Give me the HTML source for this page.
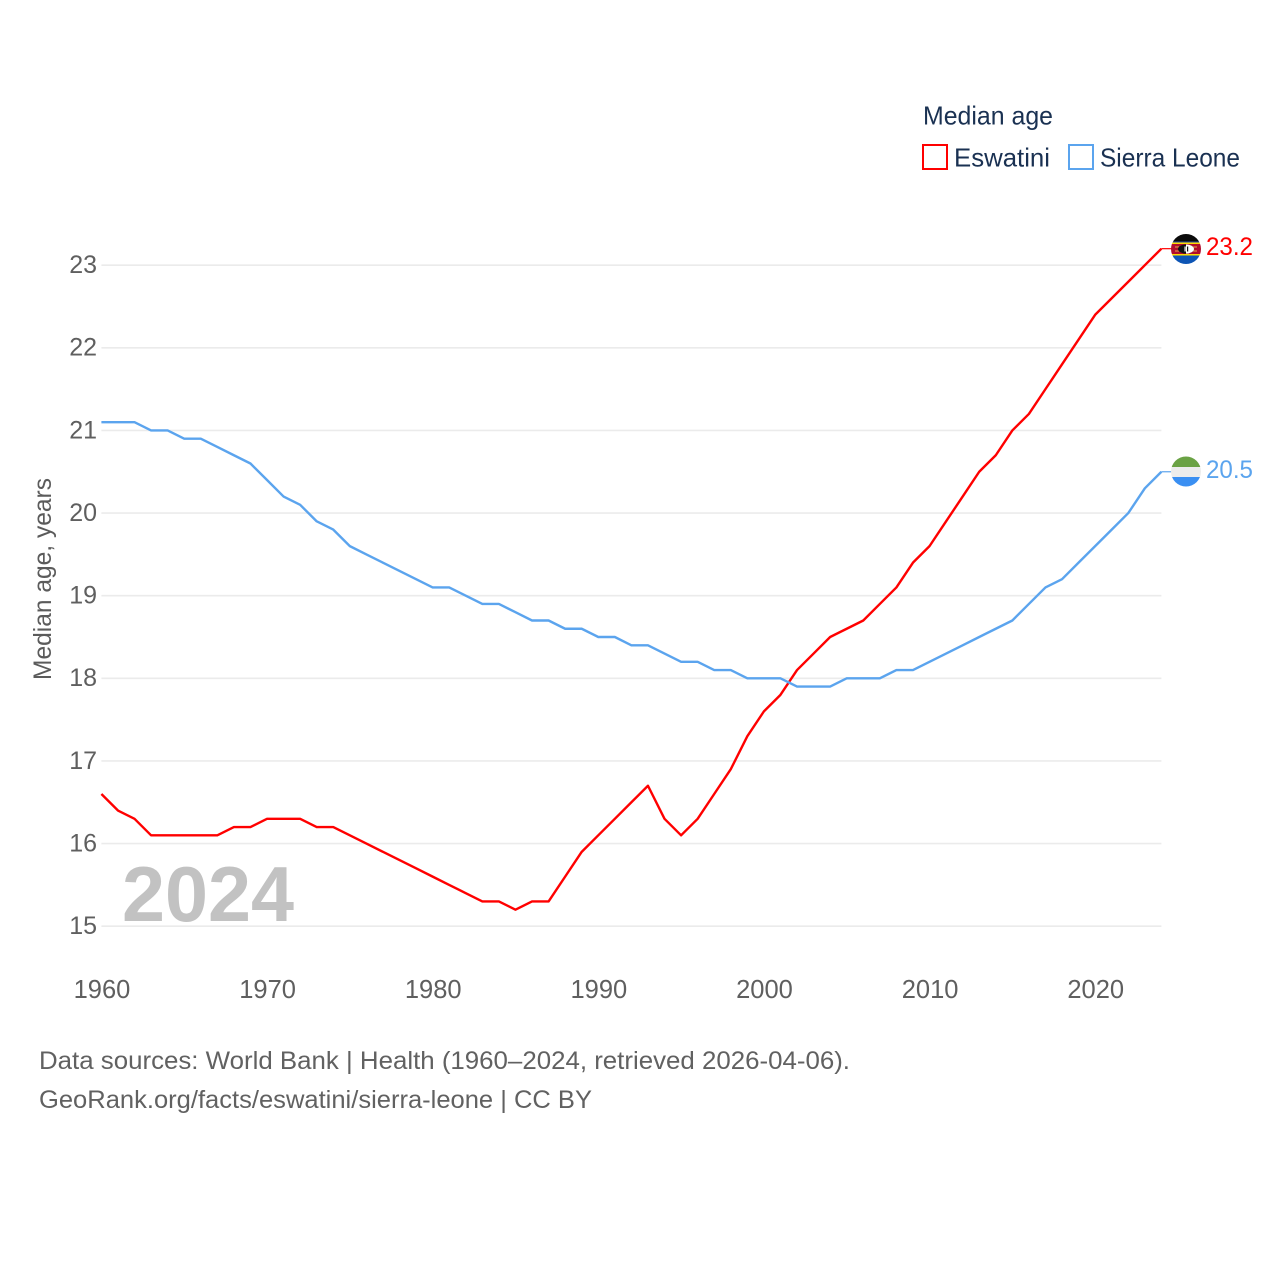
<!DOCTYPE html>
<html lang="en">
<head>
<meta charset="utf-8">
<title>Median age: Eswatini and Sierra Leone</title>
<style>
html,body{margin:0;padding:0;background:#fff;}
svg{display:block;}
text{font-family:"Liberation Sans",sans-serif;}
</style>
</head>
<body>
<svg id="chart" xmlns="http://www.w3.org/2000/svg" width="1280" height="1280" viewBox="0 0 1280 1280">
  <defs>
    <clipPath id="clip-sz"><circle cx="1186" cy="249" r="15"/></clipPath>
    <clipPath id="clip-sl"><circle cx="1186" cy="471.5" r="15"/></clipPath>
  </defs>
  <rect x="0" y="0" width="1280" height="1280" fill="#ffffff"/>

  <g id="grid"></g>
  <g id="y-ticks"></g>
  <g id="x-ticks"></g>

  <text transform="translate(51,680) rotate(-90)" font-size="25" fill="#5b5b5b" textLength="202" lengthAdjust="spacingAndGlyphs">Median age, years</text>

  <text x="122" y="921" font-size="78" font-weight="700" fill="#c2c2c2" textLength="172" lengthAdjust="spacingAndGlyphs">2024</text>

  <g id="series"></g>

  <g clip-path="url(#clip-sz)">
    <rect x="1171" y="234" width="30" height="7.5" fill="#0b0b0b"/>
    <rect x="1171" y="241.5" width="30" height="1" fill="#2a4fa8"/>
    <rect x="1171" y="242.5" width="30" height="1.5" fill="#ffd900"/>
    <rect x="1171" y="244" width="30" height="10" fill="#b10c2c"/>
    <rect x="1171" y="254" width="30" height="1.5" fill="#ffd900"/>
    <rect x="1171" y="255.5" width="30" height="8.5" fill="#0d55b5"/>
    <rect x="1175" y="246.5" width="22" height="1" fill="#e8a94a"/>
    <rect x="1175" y="250.5" width="22" height="1" fill="#e8a94a"/>
    <ellipse cx="1186" cy="249" rx="8" ry="4.6" fill="#111111"/>
    <path d="M1186 244.4a8 4.6 0 0 1 0 9.2z" fill="#ffffff"/>
    <rect x="1184.5" y="246.5" width="1.2" height="5" fill="#ffffff"/>
    <rect x="1187" y="246.5" width="1.2" height="5" fill="#111111"/>
  </g>
  <g clip-path="url(#clip-sl)">
    <rect x="1171" y="456" width="30" height="11" fill="#6aa244"/>
    <rect x="1171" y="467" width="30" height="10" fill="#ececec"/>
    <rect x="1171" y="477" width="30" height="10" fill="#3a8ff2"/>
  </g>

  <text x="1206" y="255" font-size="25" fill="#ff0000" textLength="47" lengthAdjust="spacingAndGlyphs">23.2</text>
  <text x="1206" y="478" font-size="25" fill="#5ba4ee" textLength="47" lengthAdjust="spacingAndGlyphs">20.5</text>

  <g>
    <text x="923" y="124.5" font-size="26" fill="#1a3152" textLength="130" lengthAdjust="spacingAndGlyphs">Median age</text>
    <g>
      <rect x="923" y="145" width="24" height="24" fill="#ffffff" stroke="#ff0000" stroke-width="2"/>
      <text x="954" y="166.5" font-size="26" fill="#1a3152" textLength="96" lengthAdjust="spacingAndGlyphs">Eswatini</text>
    </g>
    <g>
      <rect x="1069" y="145" width="24" height="24" fill="#ffffff" stroke="#5ba4ee" stroke-width="2"/>
      <text x="1100" y="166.5" font-size="26" fill="#1a3152" textLength="140" lengthAdjust="spacingAndGlyphs">Sierra Leone</text>
    </g>
  </g>

  <g>
    <text x="39" y="1069" font-size="25" fill="#616161" textLength="811" lengthAdjust="spacingAndGlyphs">Data sources: World Bank | Health (1960–2024, retrieved 2026-04-06).</text>
    <text x="39" y="1108" font-size="25" fill="#616161" textLength="553" lengthAdjust="spacingAndGlyphs">GeoRank.org/facts/eswatini/sierra-leone | CC BY</text>
  </g>
</svg>
<script>
var years = [1960,1961,1962,1963,1964,1965,1966,1967,1968,1969,1970,1971,1972,1973,1974,1975,1976,1977,1978,1979,1980,1981,1982,1983,1984,1985,1986,1987,1988,1989,1990,1991,1992,1993,1994,1995,1996,1997,1998,1999,2000,2001,2002,2003,2004,2005,2006,2007,2008,2009,2010,2011,2012,2013,2014,2015,2016,2017,2018,2019,2020,2021,2022,2023,2024];
var eswatini = [16.6,16.4,16.3,16.1,16.1,16.1,16.1,16.1,16.2,16.2,16.3,16.3,16.3,16.2,16.2,16.1,16.0,15.9,15.8,15.7,15.6,15.5,15.4,15.3,15.3,15.2,15.3,15.3,15.6,15.9,16.1,16.3,16.5,16.7,16.3,16.1,16.3,16.6,16.9,17.3,17.6,17.8,18.1,18.3,18.5,18.6,18.7,18.9,19.1,19.4,19.6,19.9,20.2,20.5,20.7,21.0,21.2,21.5,21.8,22.1,22.4,22.6,22.8,23.0,23.2];
var sierraLeone = [21.1,21.1,21.1,21.0,21.0,20.9,20.9,20.8,20.7,20.6,20.4,20.2,20.1,19.9,19.8,19.6,19.5,19.4,19.3,19.2,19.1,19.1,19.0,18.9,18.9,18.8,18.7,18.7,18.6,18.6,18.5,18.5,18.4,18.4,18.3,18.2,18.2,18.1,18.1,18.0,18.0,18.0,17.9,17.9,17.9,18.0,18.0,18.0,18.1,18.1,18.2,18.3,18.4,18.5,18.6,18.7,18.9,19.1,19.2,19.4,19.6,19.8,20.0,20.3,20.5];
var yTickValues = [15,16,17,18,19,20,21,22,23];
var xTickValues = [1960,1970,1980,1990,2000,2010,2020];

var SVG_NS = 'http://www.w3.org/2000/svg';
function xScale(year) { return 101.4 + (year - 1960) * (1060 / 64); }
function yScale(age) { return 926.2 - (age - 15) * (661 / 8); }

var gridGroup = document.getElementById('grid');
var yTickGroup = document.getElementById('y-ticks');
var xTickGroup = document.getElementById('x-ticks');
var seriesGroup = document.getElementById('series');

yTickValues.forEach(function (v) {
  var line = document.createElementNS(SVG_NS, 'line');
  
  
  line.setAttribute('x1', xScale(1960));
  line.setAttribute('x2', xScale(2024));
  line.setAttribute('y1', yScale(v));
  line.setAttribute('y2', yScale(v));
  line.setAttribute('stroke', '#ebebeb');
  line.setAttribute('stroke-width', '1.6');
  gridGroup.appendChild(line);

  var label = document.createElementNS(SVG_NS, 'text');
  
  
  label.setAttribute('x', 97);
  label.setAttribute('y', yScale(v) + 7.8);
  label.setAttribute('text-anchor', 'end');
  label.setAttribute('font-size', '25');
  label.setAttribute('fill', '#5f5f5f');
  label.textContent = String(v);
  yTickGroup.appendChild(label);
});

xTickValues.forEach(function (v) {
  var label = document.createElementNS(SVG_NS, 'text');
  
  
  label.setAttribute('x', xScale(v) + 0.6);
  label.setAttribute('y', 998);
  label.setAttribute('text-anchor', 'middle');
  label.setAttribute('font-size', '25.5');
  label.setAttribute('fill', '#5f5f5f');
  label.textContent = String(v);
  xTickGroup.appendChild(label);
});

function linePoints(values) {
  return values.map(function (v, i) {
    return xScale(years[i]).toFixed(2) + ',' + yScale(v).toFixed(2);
  }).join(' ');
}

function lastPoint(values) {
  return [xScale(years[values.length - 1]), yScale(values[values.length - 1])];
}

var eswatiniLine = document.createElementNS(SVG_NS, 'polyline');


eswatiniLine.setAttribute('points', linePoints(eswatini));
eswatiniLine.setAttribute('fill', 'none');
eswatiniLine.setAttribute('stroke', '#ff0000');
eswatiniLine.setAttribute('stroke-width', '2.4');
eswatiniLine.setAttribute('stroke-linejoin', 'round');
seriesGroup.appendChild(eswatiniLine);

var sierraLeoneLine = document.createElementNS(SVG_NS, 'polyline');


sierraLeoneLine.setAttribute('points', linePoints(sierraLeone));
sierraLeoneLine.setAttribute('fill', 'none');
sierraLeoneLine.setAttribute('stroke', '#5ba4ee');
sierraLeoneLine.setAttribute('stroke-width', '2.4');
sierraLeoneLine.setAttribute('stroke-linejoin', 'round');
seriesGroup.appendChild(sierraLeoneLine);

var eswatiniEnd = lastPoint(eswatini);
var eswatiniConnector = document.createElementNS(SVG_NS, 'line');


eswatiniConnector.setAttribute('x1', eswatiniEnd[0]);
eswatiniConnector.setAttribute('y1', eswatiniEnd[1]);
eswatiniConnector.setAttribute('x2', 1172);
eswatiniConnector.setAttribute('y2', eswatiniEnd[1]);
eswatiniConnector.setAttribute('stroke', '#ff0000');
eswatiniConnector.setAttribute('stroke-width', '1.2');
seriesGroup.appendChild(eswatiniConnector);

var sierraLeoneEnd = lastPoint(sierraLeone);
var sierraLeoneConnector = document.createElementNS(SVG_NS, 'line');


sierraLeoneConnector.setAttribute('x1', sierraLeoneEnd[0]);
sierraLeoneConnector.setAttribute('y1', sierraLeoneEnd[1]);
sierraLeoneConnector.setAttribute('x2', 1172);
sierraLeoneConnector.setAttribute('y2', sierraLeoneEnd[1]);
sierraLeoneConnector.setAttribute('stroke', '#5ba4ee');
sierraLeoneConnector.setAttribute('stroke-width', '1.2');
seriesGroup.appendChild(sierraLeoneConnector);
</script>
</body>
</html>
